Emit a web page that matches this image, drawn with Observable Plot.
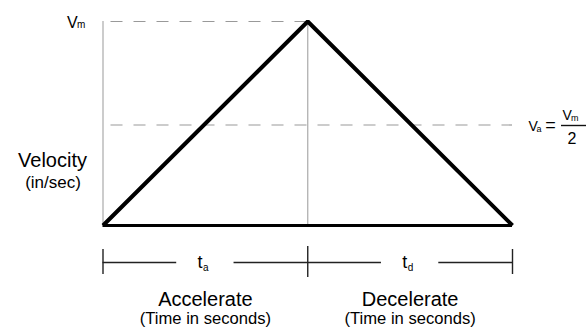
<!DOCTYPE html>
<html><head><meta charset="utf-8">
<script src="https://cdn.jsdelivr.net/npm/d3@7"></script>
<script src="https://cdn.jsdelivr.net/npm/@observablehq/plot@0.6"></script>
<style>html,body{margin:0;padding:0;background:#fff}svg{display:block}</style>
</head><body><div id="chart"></div>
<script>
// ---- data ----
const phases = ["Accelerate", "Decelerate"];
const phaseSymbols = ["t", "t"];
const phaseSubscripts = ["a", "d"];
const times = [0, 1, 2];          // start, end of acceleration (ta), end of deceleration (td)
const velocities = [0, 1, 0];     // 0 -> Vm -> 0
const vm = 1;
const va = vm / 2;
const yLabel = "Velocity";
const yUnit = "(in/sec)";
const xUnit = "(Time in seconds)";

// ---- layout ----
const font = "'Liberation Sans', Arial, Helvetica, sans-serif";
const xs = d3.scaleLinear().domain([times[0], times[2]]).range([102.5, 512]);
const ys = d3.scaleLinear().domain([0, vm]).range([225, 21]);
const profile = times.map((t, i) => ({t, v: velocities[i]}));
const mids = phases.map((p, i) => (times[i] + times[i + 1]) / 2);
const yBr = ys.invert(262);
const gap = 0.14;
const segs = [];
phases.forEach((p, i) => {
  segs.push({x1: times[i], x2: mids[i] - gap});
  segs.push({x1: mids[i] + gap, x2: times[i + 1]});
});
const dash = {stroke: "#999", strokeWidth: 1.2, strokeDasharray: "12,11", strokeDashoffset: 15};

const chart = Plot.plot({
  width: 586, height: 328, margin: 0,
  x: {domain: xs.domain(), range: xs.range(), axis: null},
  y: {domain: ys.domain(), range: ys.range(), axis: null},
  style: {fontFamily: font, background: "#fff", color: "#000"},
  marks: [
    // guides
    Plot.ruleX([times[0], times[1]], {y1: 0, y2: vm, stroke: "#aaa", strokeWidth: 1.2}),
    Plot.ruleY([vm], {x1: times[0], x2: times[1], ...dash}),
    Plot.ruleY([va], {x1: times[0], x2: times[2], dy: 1.5, ...dash}),
    // profile
    Plot.ruleY([0], {x1: times[0], x2: times[2], stroke: "#000", strokeWidth: 3}),
    Plot.line(profile, {x: "t", y: "v", stroke: "#000", strokeWidth: 4, strokeLinejoin: "miter", strokeLinecap: "butt"}),
    // bracket
    Plot.ruleY(segs, {x1: "x1", x2: "x2", y: () => yBr, stroke: "#222", strokeWidth: 1.4}),
    Plot.ruleX([times[0], times[2]], {y1: ys.invert(249), y2: ys.invert(274), stroke: "#222", strokeWidth: 1.4}),
    Plot.ruleX([times[1]], {y1: ys.invert(246), y2: ys.invert(277), stroke: "#222", strokeWidth: 1.4}),
    Plot.text(phaseSymbols, {x: (d, i) => mids[i], y: () => yBr, text: d => d, textAnchor: "start", dx: -8, fontSize: 18}),
    Plot.text(phaseSubscripts, {x: (d, i) => mids[i], y: () => yBr, text: d => d, textAnchor: "start", dx: -2.5, dy: 8, lineAnchor: "bottom", fontSize: 10}),
    // phase names
    Plot.text(phases, {x: (d, i) => mids[i], y: () => ys.invert(305.5), text: d => d, lineAnchor: "bottom", fontSize: 20}),
    Plot.text(phases, {x: (d, i) => mids[i], y: () => ys.invert(323.5), text: () => xUnit, lineAnchor: "bottom", fontSize: 16.6}),
    // y label
    Plot.text([yLabel], {x: () => times[0], y: () => va, text: d => d, dx: -50.5, dy: 43.5, lineAnchor: "bottom", fontSize: 20}),
    Plot.text([yUnit], {x: () => times[0], y: () => va, text: d => d, dx: -50, dy: 64, lineAnchor: "bottom", fontSize: 17}),
    // Vm label
    Plot.text(["V"], {x: () => times[0], y: () => vm, text: d => d, textAnchor: "start", dx: -36, dy: 6, lineAnchor: "bottom", fontSize: 16}),
    Plot.text(["m"], {x: () => times[0], y: () => vm, text: d => d, textAnchor: "start", dx: -26, dy: 6.5, lineAnchor: "bottom", fontSize: 10}),
    // Va = Vm / 2
    Plot.text(["V"], {x: () => times[2], y: () => va, text: d => d, textAnchor: "start", dx: 16, dy: 7.5, lineAnchor: "bottom", fontSize: 14}),
    Plot.text(["a"], {x: () => times[2], y: () => va, text: d => d, textAnchor: "start", dx: 24, dy: 8.5, lineAnchor: "bottom", fontSize: 9}),
    Plot.text(["="], {x: () => times[2], y: () => va, text: d => d, dx: 38, dy: 1.5, fontSize: 18}),
    Plot.ruleY([va], {x1: () => xs.invert(561), x2: () => xs.invert(586), dy: 2, stroke: "#111", strokeWidth: 1.4}),
    Plot.text(["V"], {x: () => times[2], y: () => va, text: d => d, textAnchor: "start", dx: 50, dy: -4, lineAnchor: "bottom", fontSize: 14}),
    Plot.text(["m"], {x: () => times[2], y: () => va, text: d => d, textAnchor: "start", dx: 58.5, dy: -3, lineAnchor: "bottom", fontSize: 9}),
    Plot.text(["2"], {x: () => times[2], y: () => va, text: d => d, dx: 59.5, dy: 20.5, lineAnchor: "bottom", fontSize: 16})
  ]
});
document.getElementById("chart").append(chart);
</script>
</body></html>
